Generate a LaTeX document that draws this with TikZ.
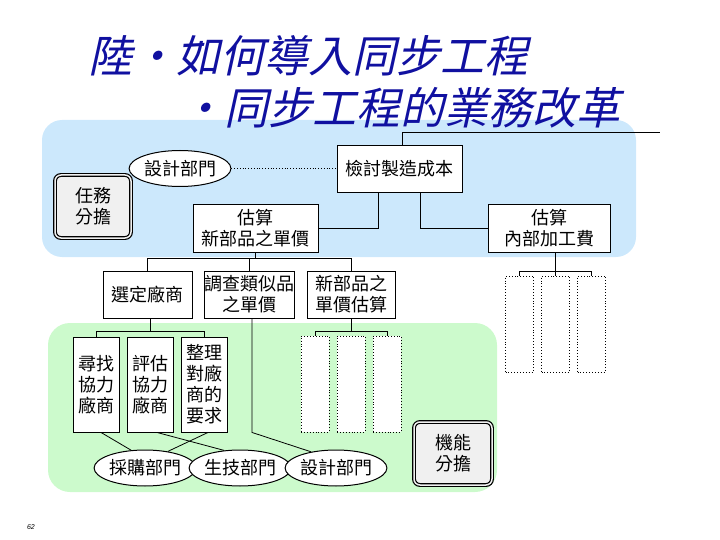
\documentclass[tikz,border=0pt]{standalone}
\usepackage{fontspec}
\setmainfont{Liberation Sans}
\newfontfamily\cjk{Noto Sans CJK TC}
\newfontfamily\cjktitle[FakeSlant=0.22]{Noto Sans CJK TC}
\usetikzlibrary{shapes.geometric}
\definecolor{titleblue}{RGB}{16,16,160}
\definecolor{paleblue}{RGB}{204,232,252}
\definecolor{palegreen}{RGB}{204,250,204}
\tikzset{
 box/.style={draw, line width=0.9pt, fill=white, inner sep=0pt, align=center, font=\cjk\fontsize{18}{21}\selectfont},
 dotbox/.style={draw, dotted, line width=0.9pt, fill=white, minimum width=28pt, minimum height=96pt, inner sep=0pt},
 oval/.style={ellipse, draw, line width=1pt, fill=white, inner sep=0pt, minimum width=84pt, minimum height=36pt, font=\cjk\fontsize{18}{21}\selectfont},
 rolebox/.style={draw, line width=1.2pt, double=black!6, double distance=1.5pt, fill=black!6, rounded corners=6pt, inner sep=0pt, minimum width=76pt, minimum height=63pt, align=center, font=\cjk\fontsize{18}{21}\selectfont},
 link/.style={line width=0.8pt},
 titletext/.style={anchor=west, inner sep=0pt, text=titleblue, font=\cjktitle\fontsize{44}{48}\selectfont}
}
\begin{document}
\begin{tikzpicture}[x=1pt,y=-1pt]
\useasboundingbox (0,0) rectangle (720,540);
% regions
\fill[paleblue, rounded corners=20pt] (42,120) rectangle (636,257);
\fill[palegreen, rounded corners=22pt] (48,323) rectangle (497,492);
% title
\node[titletext] (t1) at (88,56) {陸・如何導入同步工程};
\node[titletext] (t2) at (180,108) {・同步工程的業務改革};
% upper nodes
\node[box, minimum width=125pt, minimum height=47pt] (chk) at (399.5,168.5) {檢討製造成本};
\node[oval] (des1) at (180,168.5) {設計部門};
\node[rolebox] (task) at (93,206.5) {任務\\分擔};
\node[box, minimum width=125pt, minimum height=48pt] (est1) at (255.5,228) {估算\\新部品之單價};
\node[box, minimum width=122pt, minimum height=48pt] (est2) at (549,228) {估算\\內部加工費};
% middle nodes
\node[box, minimum width=89pt, minimum height=47pt] (sel) at (147.5,294.5) {選定廠商};
\node[box, minimum width=90pt, minimum height=47pt] (inv) at (249,294.5) {調查類似品\\之單價};
\node[box, minimum width=88pt, minimum height=47pt] (newp) at (351,294.5) {新部品之\\單價估算};
% lower boxes
\node[box, minimum width=46pt, minimum height=95pt] (f1) at (96,384.5) {尋找\\協力\\廠商};
\node[box, minimum width=46pt, minimum height=95pt] (f2) at (150,384.5) {評估\\協力\\廠商};
\node[box, minimum width=46pt, minimum height=95pt] (f3) at (204,384.5) {整理\\對廠\\商的\\要求};
\node[dotbox] (g1) at (315,384) {};
\node[dotbox] (g2) at (351,384) {};
\node[dotbox] (g3) at (387,384) {};
\node[dotbox] (h1) at (519.5,324) {};
\node[dotbox] (h2) at (555.5,324) {};
\node[dotbox] (h3) at (591.5,324) {};
% bottom ellipses
\node[oval] (buy) at (145,468) {採購部門};
\node[oval] (prod) at (240,468) {生技部門};
\node[oval] (des2) at (336,468) {設計部門};
\node[rolebox, minimum width=78pt] (func) at (453,453.5) {機能\\分擔};
\node[inner sep=0pt, font=\fontsize{7}{8}\selectfont\itshape] (pg) at (31,527) {62};
% connectors
\coordinate (topend) at (660,132);
\draw[link] ([xshift=2.5pt]chk.north) |- (topend);
\draw[link, dotted] (des1.east) -- (chk.west);
\draw[link] ([xshift=-21.5pt]chk.south) |- (est1.east);
\draw[link] ([xshift=20.5pt]chk.south) |- (est2.west);
\coordinate (bar1) at (0,258);
\draw[link] (est1.south) -- (est1.south |- bar1);
\draw[link] (sel.north) |- (newp.north |- bar1) -- (newp.north);
\draw[link] (inv.north) -- (inv.north |- bar1);
\coordinate (bar2) at (0,331);
\draw[link] (f2.north |- sel.south) -- (f2.north |- bar2);
\draw[link] (f1.north) |- (f3.north |- bar2) -- (f3.north);
\draw[link] (newp.south) -- (newp.south |- bar2);
\draw[link] (g1.north) |- (g3.north |- bar2) -- (g3.north);
\coordinate (bar3) at (0,271);
\draw[link] (h2.north |- est2.south) -- (h2.north);
\draw[link] (h1.north) |- (h3.north |- bar3) -- (h3.north);
\draw[link] ([xshift=5pt]f1.south) -- (buy.128);
\draw[link] ([xshift=7pt]f2.south) -- (prod.132);
\draw[link] ([xshift=4pt]f3.south) -- (buy.36);
\draw[link] ([xshift=3pt]inv.south) -- ([xshift=3pt]inv.south |- f1.south) -- (des2.147);
\end{tikzpicture}
\end{document}
